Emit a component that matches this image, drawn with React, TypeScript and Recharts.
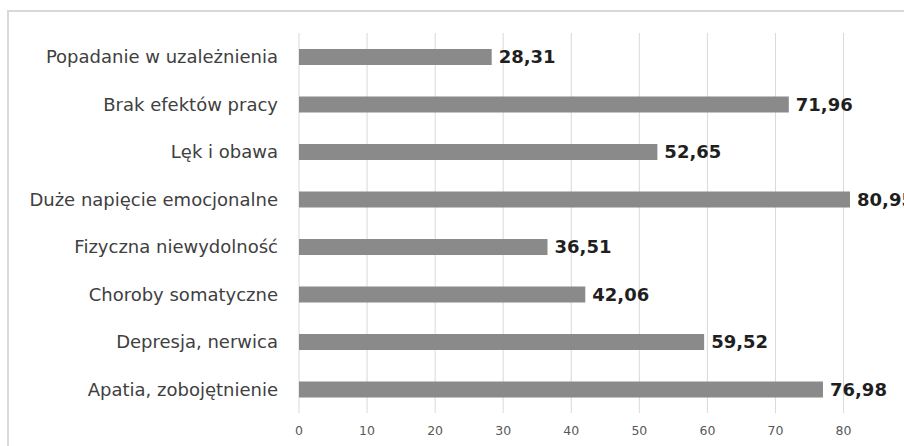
import { BarChart, Bar, XAxis, YAxis, CartesianGrid, LabelList } from 'recharts'

const categories = [
  'Popadanie w uzależnienia',
  'Brak efektów pracy',
  'Lęk i obawa',
  'Duże napięcie emocjonalne',
  'Fizyczna niewydolność',
  'Choroby somatyczne',
  'Depresja, nerwica',
  'Apatia, zobojętnienie',
]

const values = [28.31, 71.96, 52.65, 80.95, 36.51, 42.06, 59.52, 76.98]

const xTicks = [0, 10, 20, 30, 40, 50, 60, 70, 80]

const data = categories.map((name, i) => ({ name, value: values[i] }))

const fmt = (v: number) => v.toFixed(2).replace('.', ',')

const App = () => {
  return (
    <div
      style={{
        position: 'fixed',
        left: 0,
        top: 0,
        width: 904,
        height: 446,
        overflow: 'hidden',
        background: '#fff',
      }}
    >
      {/* frame, runs off the right and bottom edge like in the source */}
      <div
        style={{
          position: 'absolute',
          left: 7,
          top: 10,
          width: 960,
          height: 500,
          border: '2px solid #d9d9d9',
        }}
      />
      <div style={{ position: 'absolute', left: 0, top: 0 }}>
        <BarChart
          width={904}
          height={446}
          data={data}
          layout="vertical"
          margin={{ top: 33, right: 54, bottom: 3, left: 0 }}
        >
          <CartesianGrid horizontal={false} syncWithTicks stroke="#d9d9d9" />
          <XAxis
            type="number"
            domain={[0, 'dataMax']}
            ticks={xTicks}
            axisLine={false}
            tickLine={false}
            tickSize={6}
            tickMargin={7}
            height={30}
            tick={{ fill: '#595959', fontSize: 12.5, fontFamily: 'DejaVu Sans' }}
          />
          <YAxis
            type="category"
            dataKey="name"
            width={299}
            axisLine={false}
            tickLine={false}
            tickSize={0}
            tickMargin={21}
            interval={0}
            tick={{ fill: '#404040', fontSize: 18, fontFamily: 'DejaVu Sans' }}
          />
          <Bar dataKey="value" fill="#8a8a8a" barSize={16} isAnimationActive={false}>
            <LabelList
              dataKey="value"
              position="right"
              offset={7}
              formatter={(v: number) => fmt(v)}
              style={{ fill: '#1f1f1f', fontSize: 18, fontWeight: 'bold', fontFamily: 'DejaVu Sans' }}
            />
          </Bar>
        </BarChart>
      </div>
    </div>
  )
}

export default App
